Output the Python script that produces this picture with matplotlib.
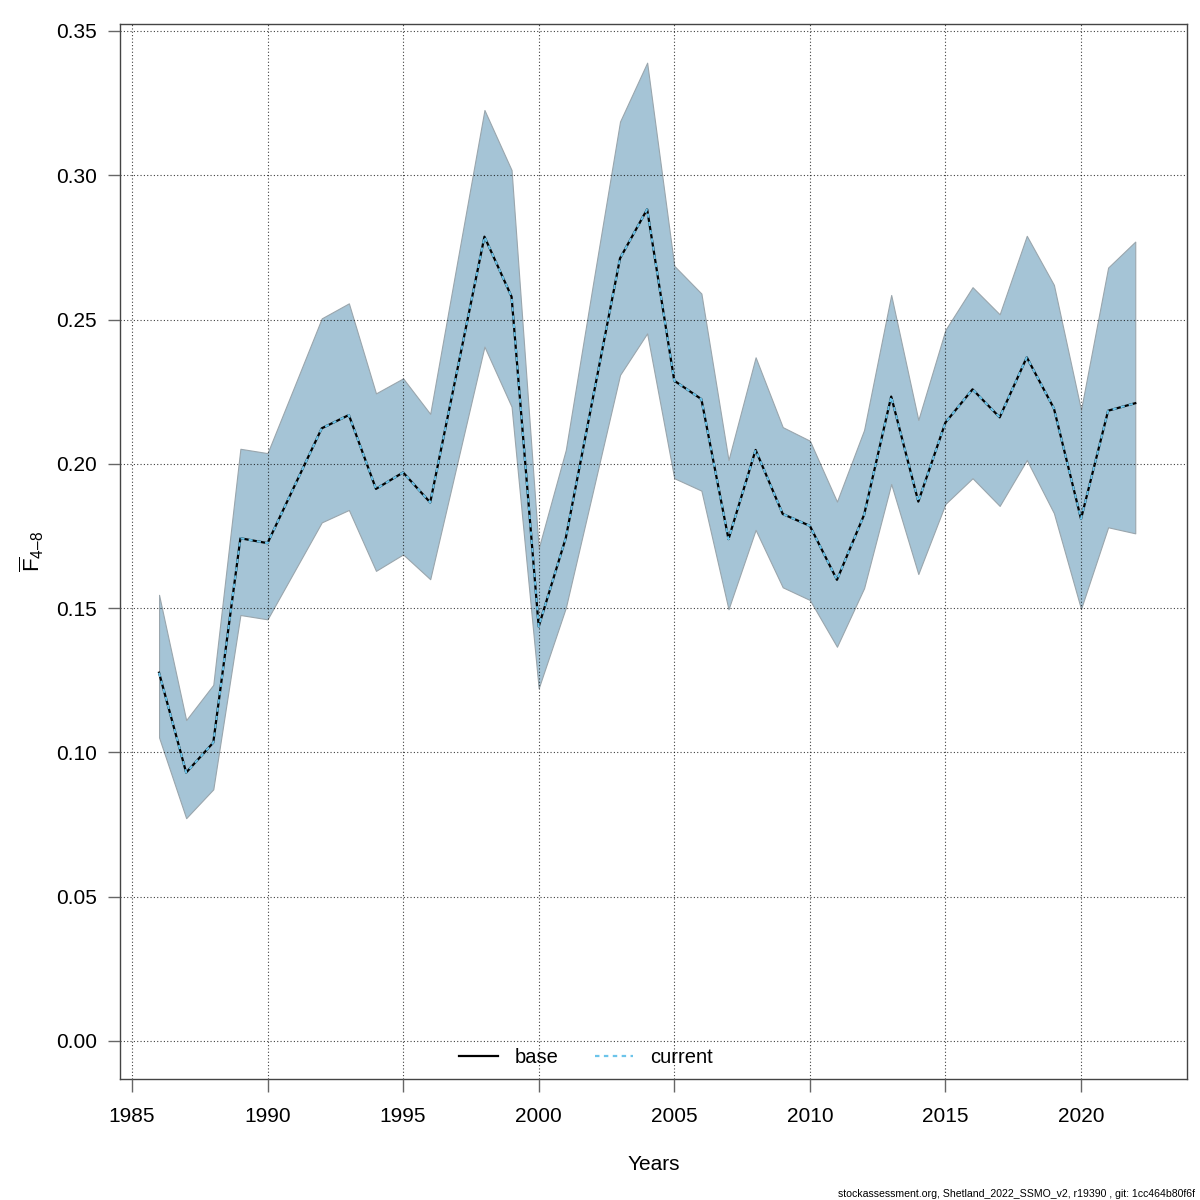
import matplotlib
matplotlib.use('Agg')
import matplotlib.pyplot as plt
import numpy as np

plt.rcParams['font.family'] = ['Liberation Sans', 'DejaVu Sans']
plt.rcParams['mathtext.fontset'] = 'custom'
plt.rcParams['mathtext.rm'] = 'Liberation Sans'
plt.rcParams['mathtext.it'] = 'Liberation Sans:italic'

#####################################################################################################################

years = list(range(1986, 2023))

fbar_mean = [0.1276, 0.0930, 0.1034, 0.1742, 0.1725, 0.1924, 0.2123, 0.2169, 0.1913, 0.1970,
             0.1866, 0.2326, 0.2787, 0.2579, 0.1436, 0.1743, 0.2228, 0.2712, 0.2882, 0.2288,
             0.2224, 0.1739, 0.2048, 0.1826, 0.1785, 0.1598, 0.1823, 0.2233, 0.1869, 0.2143,
             0.2258, 0.2161, 0.2369, 0.2192, 0.1809, 0.2184, 0.2210]

fbar_high = [0.1546, 0.1112, 0.1234, 0.2052, 0.2037, 0.2270, 0.2504, 0.2556, 0.2244, 0.2296,
             0.2173, 0.2701, 0.3226, 0.3018, 0.1707, 0.2048, 0.2621, 0.3186, 0.3390, 0.2686,
             0.2590, 0.2013, 0.2369, 0.2127, 0.2080, 0.1869, 0.2117, 0.2585, 0.2152, 0.2464,
             0.2612, 0.2518, 0.2790, 0.2620, 0.2187, 0.2680, 0.2770]

fbar_low = [0.1052, 0.0772, 0.0872, 0.1476, 0.1461, 0.1629, 0.1797, 0.1840, 0.1629, 0.1686,
            0.1600, 0.2003, 0.2406, 0.2198, 0.1222, 0.1501, 0.1904, 0.2308, 0.2452, 0.1950,
            0.1907, 0.1496, 0.1771, 0.1572, 0.1528, 0.1366, 0.1569, 0.1930, 0.1618, 0.1861,
            0.1950, 0.1854, 0.2013, 0.1829, 0.1497, 0.1780, 0.1759]

x_ticks = [1985, 1990, 1995, 2000, 2005, 2010, 2015, 2020]
y_ticks = [0.00, 0.05, 0.10, 0.15, 0.20, 0.25, 0.30, 0.35]

y_label = '$\\overline{\\mathrm{F}}_{\\mathrm{4\u20138}}$'
footer = 'stockassessment.org, Shetland_2022_SSMO_v2, r19390 , git: 1cc464b80f6f'

#####################################################################################################################

fig = plt.figure(figsize=(12, 12), dpi=100)
ax = fig.add_axes([0.1, 0.1008, 0.8892, 0.8792])

ax.fill_between(years, fbar_low, fbar_high, facecolor='#a5c4d6', edgecolor='#9aa6ad',
                linewidth=0.8, zorder=1)
ax.plot(years, fbar_mean, color='black', linewidth=1.6, zorder=3, label='base')
ax.plot(years, fbar_mean, color='#6cc4ea', linewidth=1.5, linestyle=(0, (2.0, 2.0)),
        zorder=4, label='current')

ax.set_xlim(1984.56, 2023.91)
ax.set_ylim(-0.0132, 0.3524)
ax.set_xticks(x_ticks)
ax.set_yticks(y_ticks)
ax.set_yticklabels(['%.2f' % v for v in y_ticks])

ax.set_axisbelow(False)
ax.grid(True, color='black', linestyle=(0, (1, 2)), linewidth=0.8, alpha=0.75)

for sp in ax.spines.values():
    sp.set_color('#444444')
    sp.set_linewidth(1.0)
ax.tick_params(axis='both', direction='out', length=9, width=1.0, color='#666666',
               labelsize=15)
ax.tick_params(axis='x', pad=11)
ax.tick_params(axis='y', pad=7.5)

ax.set_xlabel('Years', fontsize=15, labelpad=21)
ax.set_ylabel(y_label, fontsize=16, labelpad=7)

# legend: solid black for base, short-dashed blue for current
h_base = plt.Line2D([], [], color='black', linewidth=1.6)
h_cur = plt.Line2D([], [], color='#6cc4ea', linewidth=1.6, linestyle=(0, (2.0, 2.0)))
ax.legend([h_base, h_cur], ['base', 'current'], loc='lower center', ncol=2, frameon=False,
          fontsize=14.5, handlelength=1.9, handletextpad=0.85, columnspacing=1.8,
          bbox_to_anchor=(0.437, -0.006))

fig.text(0.996, 0.001, footer, ha='right', va='bottom', fontsize=7.6)

plt.savefig('out.png', dpi=100)
plt.close(fig)
